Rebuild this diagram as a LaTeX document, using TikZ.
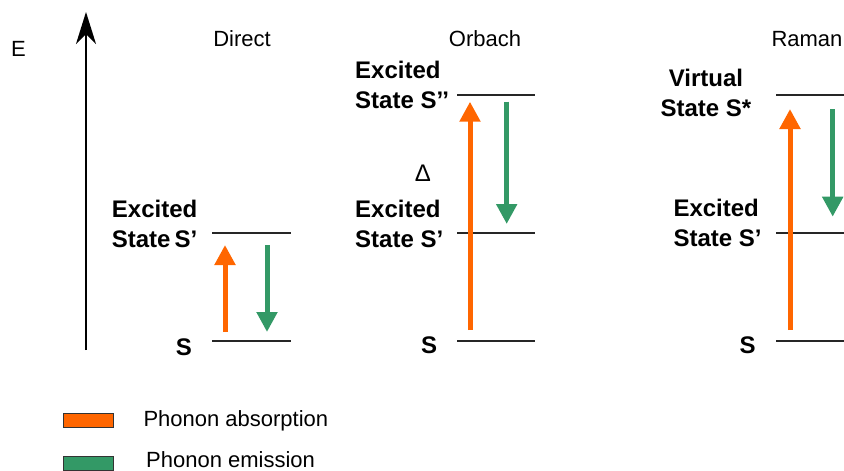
\documentclass[tikz,border=0pt]{standalone}
\usepackage{fontspec}
\setmainfont{Liberation Sans}
\usetikzlibrary{arrows.meta}
\definecolor{absorb}{HTML}{FF6600}
\definecolor{emit}{HTML}{339966}
\begin{document}
\begin{tikzpicture}[x=1pt,y=-1pt,
  level/.style={line width=1.1pt,black!85},
  lbl/.style={inner sep=0pt,font=\fontsize{24}{30}\selectfont\bfseries,align=left},
  ttl/.style={inner sep=0pt,font=\fontsize{22}{26}\selectfont},
  uparrow/.style={line width=5pt,absorb,-{Triangle[width=20pt,length=20pt]}},
  downarrow/.style={line width=5pt,emit,-{Triangle[width=20pt,length=20pt]}},
  legbox/.style={draw=black!80,line width=1pt,minimum width=50pt,minimum height=14pt,inner sep=0pt}]
\useasboundingbox (0,0) rectangle (844,471);
% energy axis
\coordinate (ax0) at (86,350);
\coordinate (ax1) at (86,12);
\draw[line width=2pt,-{Stealth[width=20pt,length=32pt,inset=10pt]}] (ax0) -- (ax1);
\node[ttl] (E) at (18.5,49) {E};
% titles
\node[ttl] (tD) at (242,39) {Direct};
\node[ttl] (tO) at (485,39) {Orbach};
\node[ttl] (tR) at (807,39) {Raman};
% Direct
\coordinate (d1a) at (212,233); \coordinate (d1b) at (291,233);
\coordinate (d0a) at (212,341); \coordinate (d0b) at (291,341);
\draw[level] (d1a) -- (d1b);
\draw[level] (d0a) -- (d0b);
\node[lbl,anchor=west] (dS1) at (111.7,223.5) {Excited\\State\,S’};
\node[lbl] (dS0) at (184,347) {S};
\coordinate (du0) at (225,332); \coordinate (du1) at (225,245);
\coordinate (dd0) at (267,245); \coordinate (dd1) at (267,332);
\draw[uparrow] (du0) -- (du1);
\draw[downarrow] (dd0) -- (dd1);
% Orbach
\coordinate (o2a) at (457,95); \coordinate (o2b) at (535,95);
\coordinate (o1a) at (457,233); \coordinate (o1b) at (535,233);
\coordinate (o0a) at (457,341); \coordinate (o0b) at (535,341);
\draw[level] (o2a) -- (o2b);
\draw[level] (o1a) -- (o1b);
\draw[level] (o0a) -- (o0b);
\node[lbl,anchor=west] (oS2) at (355,84.5) {Excited\\State S’’};
\node[lbl,anchor=west] (oS1) at (355,224) {Excited\\State S’};
\node[lbl] (oS0) at (429,345) {S};
\node[inner sep=0pt,font=\fontsize{24}{26}\selectfont] (delta) at (423,173) {Δ};
\coordinate (ou0) at (470,330); \coordinate (ou1) at (470,101.7);
\coordinate (od0) at (506.7,101.7); \coordinate (od1) at (506.7,224);
\draw[uparrow] (ou0) -- (ou1);
\draw[downarrow] (od0) -- (od1);
% Raman
\coordinate (r2a) at (776,95); \coordinate (r2b) at (850,95);
\coordinate (r1a) at (776,233); \coordinate (r1b) at (850,233);
\coordinate (r0a) at (776,341); \coordinate (r0b) at (850,341);
\draw[level] (r2a) -- (r2b);
\draw[level] (r1a) -- (r1b);
\draw[level] (r0a) -- (r0b);
\node[lbl,align=center] (rS2) at (706,92.5) {Virtual\\State S*};
\node[lbl,anchor=west] (rS1) at (673.3,223) {Excited\\State S’};
\node[lbl] (rS0) at (747.5,345) {S};
\coordinate (ru0) at (790,330); \coordinate (ru1) at (790,109);
\coordinate (rd0) at (832.7,109); \coordinate (rd1) at (832.7,216.7);
\draw[uparrow] (ru0) -- (ru1);
\draw[downarrow] (rd0) -- (rd1);
% legend
\node[legbox,fill=absorb] (la) at (88.3,420.5) {};
\node[legbox,fill=emit] (le) at (88.3,463) {};
\node[ttl,anchor=west] (lat) at (143.3,420.5) {Phonon absorption};
\node[ttl,anchor=west] (let) at (146,460) {Phonon emission};
\end{tikzpicture}
\end{document}
